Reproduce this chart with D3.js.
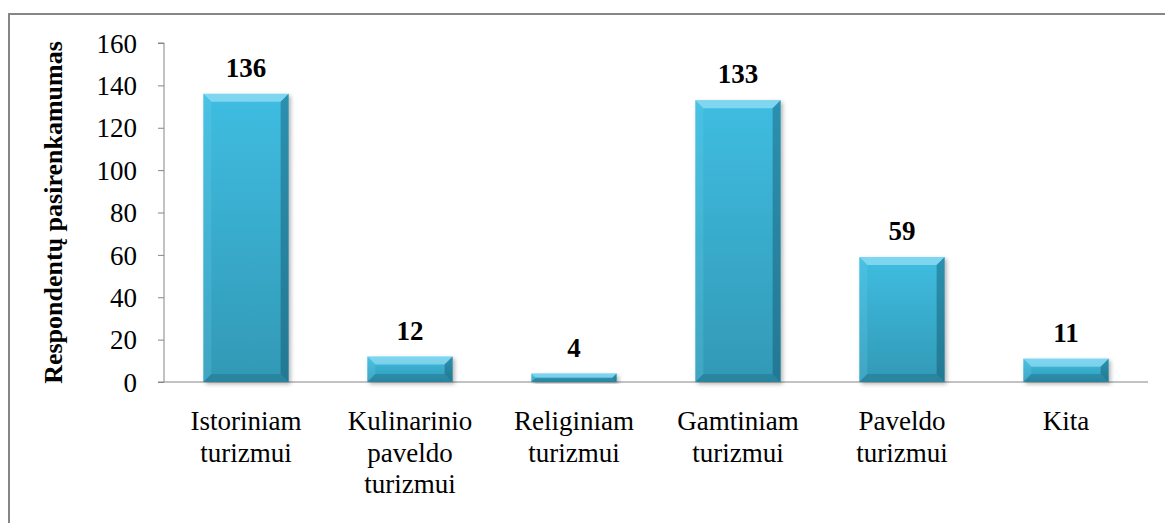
<html>
<head>
<meta charset="utf-8">
<script src="https://d3js.org/d3.v7.min.js"></script>
<style>
body { margin: 0; background: #fff; }
text { font-family: "Liberation Serif", "DejaVu Serif", serif; fill: #000; }
</style>
</head>
<body>
<script>

// chart data
var categories = [["Istoriniam", "turizmui"], ["Kulinarinio", "paveldo", "turizmui"], ["Religiniam", "turizmui"],
                  ["Gamtiniam", "turizmui"], ["Paveldo", "turizmui"], ["Kita"]];
var values = [136, 12, 4, 133, 59, 11];
var yTicks = [0, 20, 40, 60, 80, 100, 120, 140, 160];
var yTitle = "Respondentų pasirenkamumas";

var W = 1165, H = 523;
var serif = "'Liberation Serif', 'DejaVu Serif', serif";

var svg = d3.select("body").append("svg")
    .attr("width", W)
    .attr("height", H);

var defs = svg.append("defs");

// main bar fill, light at the top, darker at the bottom
var grad = defs.append("linearGradient").attr("id", "barFill")
    .attr("x1", 0).attr("y1", 0).attr("x2", 0).attr("y2", 1);
grad.append("stop").attr("offset", "0%").attr("stop-color", "#3fbde1");
grad.append("stop").attr("offset", "100%").attr("stop-color", "#3299b6");

var shadow = defs.append("filter").attr("id", "shadow")
    .attr("x", "-10%").attr("y", "-10%").attr("width", "130%").attr("height", "130%");
shadow.append("feDropShadow").attr("dx", 2).attr("dy", 2).attr("stdDeviation", 2)
    .attr("flood-color", "#000").attr("flood-opacity", 0.3);

// outer frame (only top and left visible in the picture)
svg.append("rect")
    .attr("x", 9).attr("y", 14)
    .attr("width", W).attr("height", H)
    .attr("fill", "none")
    .attr("stroke", "#868686")
    .attr("stroke-width", 2);

var x = d3.scaleBand()
    .domain(d3.range(categories.length))
    .range([164, 1148])
    .paddingInner(0.48)
    .paddingOuter(0.24);

var y = d3.scaleLinear()
    .domain([0, 160])
    .range([382, 43]);

// y axis
var yAxis = svg.append("g")
    .attr("transform", "translate(164,0)")
    .call(d3.axisLeft(y).tickValues(yTicks).tickSize(6).tickPadding(21));
yAxis.select(".domain").attr("stroke", "#868686").attr("d", "M-6," + y(160) + "H0V" + y(0));
yAxis.selectAll(".tick line").attr("stroke", "#868686");
yAxis.selectAll(".tick text")
    .style("font-family", serif)
    .style("font-size", "27px")
    .attr("dy", "0.34em")
    .attr("fill", "#000");

// x axis line
svg.append("line")
    .attr("x1", 158).attr("x2", 1148)
    .attr("y1", y(0)).attr("y2", y(0))
    .attr("stroke", "#868686")
    .attr("stroke-width", 1);

// bars
var bars = svg.selectAll(".bar")
    .data(values)
    .enter().append("g")
    .attr("class", "bar");

bars.append("rect")
    .attr("x", function(d, i) { return x(i); })
    .attr("y", function(d) { return y(d); })
    .attr("width", x.bandwidth())
    .attr("height", function(d) { return y(0) - y(d); })
    .attr("fill", "url(#barFill)")
    .attr("filter", "url(#shadow)");

// bevel edges
function bevel(d, i, side) {
  var x0 = x(i), x1 = x(i) + x.bandwidth();
  var y0 = y(d), y1 = y(0);
  var b = Math.min(8, (y1 - y0) / 2);
  if (side == "top") return [[x0, y0], [x1, y0], [x1 - b, y0 + b], [x0 + b, y0 + b]];
  if (side == "bottom") return [[x0, y1], [x1, y1], [x1 - b, y1 - b], [x0 + b, y1 - b]];
  if (side == "left") return [[x0, y0], [x0 + b, y0 + b], [x0 + b, y1 - b], [x0, y1]];
  return [[x1, y0], [x1 - b, y0 + b], [x1 - b, y1 - b], [x1, y1]];
}
var bevelColors = {top: "rgba(190,240,255,0.5)", left: "rgba(120,215,240,0.2)",
                   right: "rgba(10,60,80,0.35)", bottom: "rgba(10,60,80,0.22)"};
["top", "left", "right", "bottom"].forEach(function(side) {
  bars.append("polygon")
      .attr("points", function(d, i) { return bevel(d, i, side).join(" "); })
      .attr("fill", bevelColors[side]);
});

// value labels
svg.selectAll(".val")
    .data(values)
    .enter().append("text")
    .attr("class", "val")
    .attr("x", function(d, i) { return x(i) + x.bandwidth() / 2; })
    .attr("y", function(d) { return y(d) - 17; })
    .attr("text-anchor", "middle")
    .style("font-size", "27px")
    .style("font-weight", "bold")
    .text(function(d) { return d; });

// category labels
var cat = svg.selectAll(".cat")
    .data(categories)
    .enter().append("text")
    .attr("class", "cat")
    .attr("text-anchor", "middle")
    .style("font-size", "27px");
cat.selectAll("tspan")
    .data(function(d, i) { return d.map(function(t) { return {t: t, i: i}; }); })
    .enter().append("tspan")
    .attr("x", function(d) { return x(d.i) + x.bandwidth() / 2; })
    .attr("y", function(d, j) { return 430 + j * 31.5; })
    .text(function(d) { return d.t; });

// y axis title
svg.append("text")
    .attr("transform", "translate(62," + ((y(0) + y(160)) / 2) + ") rotate(-90)")
    .attr("text-anchor", "middle")
    .style("font-size", "26px")
    .style("font-weight", "bold")
    .text(yTitle);

</script>
</body>
</html>
